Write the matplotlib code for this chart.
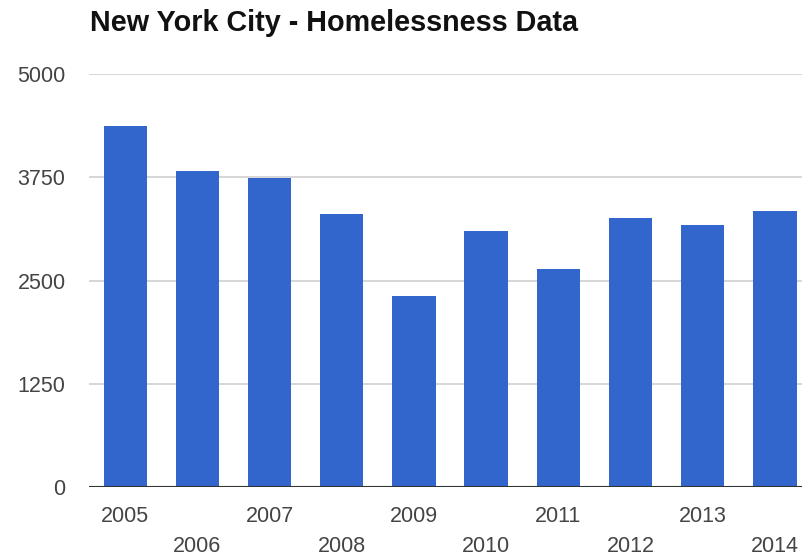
import matplotlib.pyplot as plt
import numpy as np

# Homeless counts per year
years = ['2005', '2006', '2007', '2008', '2009', '2010', '2011', '2012', '2013', '2014']
counts = [4374, 3829, 3745, 3301, 2316, 3103, 2643, 3253, 3172, 3345]
yticks = [0, 1250, 2500, 3750, 5000]

plt.rcParams['font.family'] = ['Liberation Sans', 'DejaVu Sans']

fig = plt.figure(figsize=(8.03, 5.59), dpi=100)
ax = fig.add_axes([0.111, 0.1288, 0.889, 0.7388])

x = np.arange(len(years))
ax.bar(x, counts, width=0.6, color='#3366cc', zorder=2)

ax.set_xlim(-0.5, len(years) - 0.61)
ax.set_ylim(0, 5000)
ax.set_yticks(yticks)
ax.set_yticklabels([str(t) for t in yticks], fontsize=15.5, color='#444444')
ax.yaxis.grid(True, color='#d0d0d0', linewidth=1.2, zorder=0)
ax.axhline(0, color='#333333', linewidth=1.5, zorder=3)

ax.set_xticks(x)
ax.set_xticklabels(years, fontsize=15.5, color='#444444')
# stagger the year labels in two rows
for i, tick in enumerate(ax.xaxis.get_major_ticks()):
    tick.set_pad(14 if i % 2 == 0 else 35)

ax.tick_params(axis='both', length=0)
ax.tick_params(axis='y', pad=17)
for side in ax.spines.values():
    side.set_visible(False)

fig.text(0.112, 0.945, 'New York City - Homelessness Data', fontsize=20.7,
         fontweight='bold', color='#111111', va='baseline', ha='left')

fig.savefig('out.png', dpi=100)
